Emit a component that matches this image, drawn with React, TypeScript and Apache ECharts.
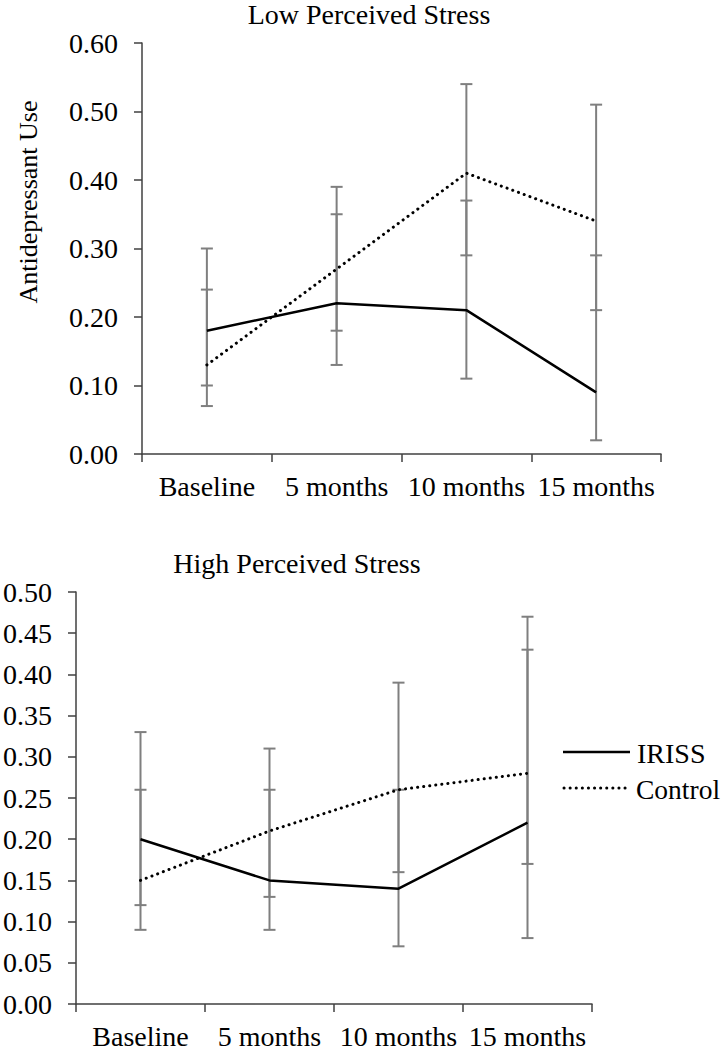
import React, { useEffect, useRef } from "react";
import * as echarts from "echarts";

const categories = ["Baseline", "5 months", "10 months", "15 months"];
const seriesNames = ["IRISS", "Control"];

// Low Perceived Stress
const lowIriss = [0.18, 0.22, 0.21, 0.09];
const lowIrissLow = [0.10, 0.13, 0.11, 0.02];
const lowIrissHigh = [0.30, 0.35, 0.37, 0.29];
const lowControl = [0.13, 0.27, 0.41, 0.34];
const lowControlLow = [0.07, 0.18, 0.29, 0.21];
const lowControlHigh = [0.24, 0.39, 0.54, 0.51];

// High Perceived Stress
const highIriss = [0.20, 0.15, 0.14, 0.22];
const highIrissLow = [0.12, 0.09, 0.07, 0.08];
const highIrissHigh = [0.33, 0.26, 0.26, 0.43];
const highControl = [0.15, 0.21, 0.26, 0.28];
const highControlLow = [0.09, 0.13, 0.16, 0.17];
const highControlHigh = [0.26, 0.31, 0.39, 0.47];

const FONT = "Liberation Serif";

function errData(lows: number[], highs: number[]) {
  return lows.map((l, i) => [i, l, highs[i]]);
}

function renderErr(params: any, api: any) {
  const x = api.value(0);
  const lo = api.coord([x, api.value(1)]);
  const hi = api.coord([x, api.value(2)]);
  const hw = 6;
  const style = { stroke: "#7f7f7f", lineWidth: 2 };
  return {
    type: "group",
    children: [
      { type: "line", shape: { x1: lo[0], y1: lo[1], x2: hi[0], y2: hi[1] }, style },
      { type: "line", shape: { x1: lo[0] - hw, y1: lo[1], x2: lo[0] + hw, y2: lo[1] }, style },
      { type: "line", shape: { x1: hi[0] - hw, y1: hi[1], x2: hi[0] + hw, y2: hi[1] }, style },
    ],
  };
}

export default function App() {
  const ref = useRef<HTMLDivElement>(null);
  useEffect(() => {
    if (!ref.current) return;
    const chart = echarts.init(ref.current, null, { renderer: "svg" });
    const axisLine = { show: true, lineStyle: { color: "#404040", width: 1.5 } };
    const xAxisCommon = {
      type: "category",
      data: categories,
      axisLine,
      axisTick: { show: true, length: 8, lineStyle: { color: "#404040", width: 1.5 } },
      axisLabel: { interval: 0, margin: 18, fontSize: 28, fontFamily: FONT, color: "#000" },
      splitLine: { show: false },
    };
    const yAxisCommon = {
      type: "value",
      min: 0,
      axisLine,
      axisTick: { show: true, length: 8, lineStyle: { color: "#404040", width: 1.5 } },
      axisLabel: {
        margin: 24,
        fontSize: 28,
        fontFamily: FONT,
        color: "#000",
        formatter: (v: number) => v.toFixed(2),
      },
      splitLine: { show: false },
    };
    const solid = { color: "#000", width: 2.5, type: "solid" };
    const dotted = { color: "#000", width: 3, type: [0.1, 6], cap: "round" };
    const textStyle = (t: string, size = 28) => ({
      text: t,
      font: `${size}px "${FONT}"`,
      fill: "#000",
    });
    chart.setOption({
      animation: false,
      backgroundColor: "#fff",
      grid: [
        { left: 142, top: 43, width: 519, height: 411 },
        { left: 72, top: 592, width: 520, height: 415 },
      ],
      xAxis: [
        { ...xAxisCommon, gridIndex: 0 },
        { ...xAxisCommon, gridIndex: 1 },
      ],
      yAxis: [
        { ...yAxisCommon, gridIndex: 0, max: 0.6, interval: 0.1 },
        { ...yAxisCommon, gridIndex: 1, max: 0.5, interval: 0.05 },
      ],
      graphic: [
        {
          type: "text",
          x: 369,
          y: 14,
          style: { ...textStyle("Low Perceived Stress"), align: "center", verticalAlign: "middle" },
        },
        {
          type: "text",
          x: 297,
          y: 563,
          style: { ...textStyle("High Perceived Stress"), align: "center", verticalAlign: "middle" },
        },
        {
          type: "text",
          x: 28,
          y: 202,
          rotation: Math.PI / 2,
          style: { ...textStyle("Antidepressant Use", 26), align: "center", verticalAlign: "middle" },
        },
        // legend
        {
          type: "line",
          shape: { x1: 563, y1: 752, x2: 630, y2: 752 },
          style: { stroke: "#000", lineWidth: 2.5 },
        },
        {
          type: "text",
          x: 637,
          y: 753,
          style: { ...textStyle(seriesNames[0]), align: "left", verticalAlign: "middle" },
        },
        {
          type: "line",
          shape: { x1: 564, y1: 788, x2: 630, y2: 788 },
          style: { stroke: "#000", lineWidth: 3, lineDash: [0.1, 6], lineCap: "round" },
        },
        {
          type: "text",
          x: 636,
          y: 789,
          style: { ...textStyle(seriesNames[1], 27.5), align: "left", verticalAlign: "middle" },
        },
      ],
      series: [
        {
          type: "custom",
          xAxisIndex: 0,
          yAxisIndex: 0,
          renderItem: renderErr,
          encode: { x: 0, y: [1, 2] },
          data: errData(lowIrissLow, lowIrissHigh),
          z: 1,
        },
        {
          type: "custom",
          xAxisIndex: 0,
          yAxisIndex: 0,
          renderItem: renderErr,
          encode: { x: 0, y: [1, 2] },
          data: errData(lowControlLow, lowControlHigh),
          z: 1,
        },
        {
          type: "custom",
          xAxisIndex: 1,
          yAxisIndex: 1,
          renderItem: renderErr,
          encode: { x: 0, y: [1, 2] },
          data: errData(highIrissLow, highIrissHigh),
          z: 1,
        },
        {
          type: "custom",
          xAxisIndex: 1,
          yAxisIndex: 1,
          renderItem: renderErr,
          encode: { x: 0, y: [1, 2] },
          data: errData(highControlLow, highControlHigh),
          z: 1,
        },
        { name: seriesNames[0], type: "line", xAxisIndex: 0, yAxisIndex: 0, data: lowIriss, symbol: "none", lineStyle: solid, itemStyle: { color: "#000" }, z: 3 },
        { name: seriesNames[1], type: "line", xAxisIndex: 0, yAxisIndex: 0, data: lowControl, symbol: "none", lineStyle: dotted, itemStyle: { color: "#000" }, z: 3 },
        { name: seriesNames[0], type: "line", xAxisIndex: 1, yAxisIndex: 1, data: highIriss, symbol: "none", lineStyle: solid, itemStyle: { color: "#000" }, z: 3 },
        { name: seriesNames[1], type: "line", xAxisIndex: 1, yAxisIndex: 1, data: highControl, symbol: "none", lineStyle: dotted, itemStyle: { color: "#000" }, z: 3 },
      ],
    });
    return () => chart.dispose();
  }, []);
  return (
    <div
      ref={ref}
      style={{ position: "absolute", left: 0, top: 0, width: 724, height: 1050, background: "#fff" }}
    />
  );
}
